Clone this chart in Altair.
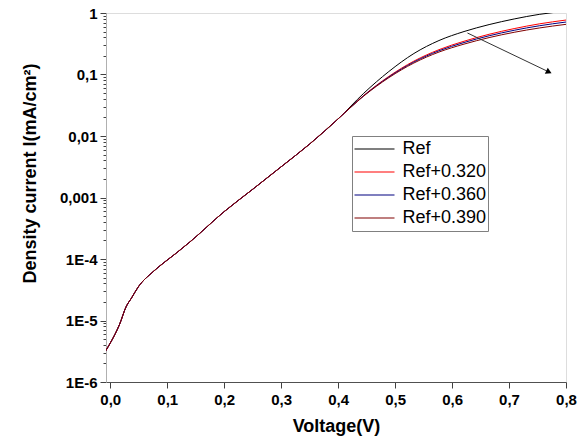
import math
import altair as alt
import pandas as pd

# ---------------- data ----------------
voltage = [-0.008, 0.0, 0.008, 0.016, 0.028, 0.037, 0.049, 0.075, 0.096, 0.116,
           0.14, 0.2, 0.25, 0.3, 0.35, 0.4,
           0.445, 0.489, 0.533, 0.577, 0.621, 0.665, 0.709, 0.753, 0.8]
# common part of all curves (V <= 0.4)
shared_low = [3.2e-6, 4.3e-6, 5.9e-6, 8.5e-6, 1.69e-5, 2.3e-5, 3.5e-5, 6.2e-5, 9.0e-5, 1.25e-4,
              1.9e-4, 5.9e-4, 1.36e-3, 3.16e-3, 7.4e-3, 1.9e-2]
ref_high = [0.0496, 0.1118, 0.2194, 0.3567, 0.4995, 0.648, 0.80, 0.95, 1.07]
r320_high = [0.0457, 0.0932, 0.1651, 0.2533, 0.3476, 0.4508, 0.5577, 0.6652, 0.7682]
r360_high = [0.0452, 0.0911, 0.1596, 0.2431, 0.3311, 0.4262, 0.5234, 0.6196, 0.7128]
r390_high = [0.0447, 0.0887, 0.1537, 0.2316, 0.3119, 0.3984, 0.4857, 0.5706, 0.6540]

series_names = ["Ref", "Ref+0.320", "Ref+0.360", "Ref+0.390"]
series_colors = ["#000000", "#ff0000", "#000080", "#800000"]
series_high = [ref_high, r320_high, r360_high, r390_high]

y_major_values = [1, 0.1, 0.01, 0.001, 1e-4, 1e-5, 1e-6]
y_major_labels = ["1", "0,1", "0,01", "0,001", "1E-4", "1E-5", "1E-6"]
x_tick_values = [round(i * 0.05, 2) for i in range(17)]

arrow_v = [0.627, 0.770]
arrow_i = [0.473, 0.110]

# ---------------- tables ----------------
rows = []
for name, high in zip(series_names, series_high):
    for v, i in zip(voltage, shared_low + high):
        rows.append({"V": v, "I": i, "series": name})
df = pd.DataFrame(rows)

arrow_df = pd.DataFrame({"V": arrow_v, "I": arrow_i})
head_df = arrow_df.tail(1)

y_all_values = [m * 10.0 ** e for e in range(-6, 0) for m in range(1, 10)] + [1.0]

# label expression for y built from the label lists
y_expr = "''"
for val, lab in zip(reversed(y_major_values), reversed(y_major_labels)):
    y_expr = f"abs(log(datum.value)/LN10 - ({math.log10(val):.0f})) < 0.001 ? '{lab}' : " + y_expr
x_expr = ("abs(datum.value*10 - round(datum.value*10)) < 0.000001 ? "
          "replace(format(datum.value, '.1f'), '.', ',') : ''")
y_major_test = "abs(log(datum.value)/LN10 - round(log(datum.value)/LN10)) < 0.001"
x_major_test = "abs(datum.value*10 - round(datum.value*10)) < 0.000001"

FONT = "Liberation Sans"

x_scale = alt.Scale(domain=[-0.0075, 0.8], nice=False, zero=False)
y_scale = alt.Scale(type="log", domain=[1e-6, 1], nice=False)

x_axis = alt.Axis(
    values=x_tick_values, labelExpr=x_expr, grid=False,
    tickSize=6, tickColor="#404040", domainColor="#505050",
    tickDash={"condition": {"test": x_major_test, "value": [8, 0]}, "value": [3, 20]},
    labelFont=FONT, labelFontSize=15, labelFontWeight="bold", labelColor="#000000",
    labelPadding=4, labelFlush=False, labelOverlap=False,
    title="Voltage(V)", titleFont=FONT, titleFontSize=18, titleFontWeight="bold",
    titleColor="#000000", titlePadding=10,
)
y_axis = alt.Axis(
    values=y_all_values, labelExpr=y_expr, grid=False,
    tickSize=6, tickColor="#404040", domainColor="#b0b0b0",
    tickDash={"condition": {"test": y_major_test, "value": [8, 0]}, "value": [3, 20]},
    labelFont=FONT, labelFontSize=15, labelFontWeight="bold", labelColor="#000000",
    labelPadding=3, labelFlush=False, labelOverlap=False,
    title="Density current I(mA/cm²)", titleFont=FONT, titleFontSize=18,
    titleFontWeight="bold", titleColor="#000000", titleX=-67, titleY=160,
)

legend = alt.Legend(
    title=None, orient="none", legendX=246, legendY=123,
    symbolType="stroke", symbolSize=1600, symbolStrokeWidth=1.2,
    clipHeight=23, rowPadding=0, padding=1.5,
    labelFont=FONT, labelFontSize=18, labelColor="#000000", labelOffset=7,
    strokeColor="#808080", fillColor="#ffffff",
)

lines = alt.Chart(df).mark_line(strokeWidth=1, clip=True, interpolate="monotone").encode(
    x=alt.X("V:Q", scale=x_scale, axis=x_axis),
    y=alt.Y("I:Q", scale=y_scale, axis=y_axis),
    color=alt.Color("series:N", scale=alt.Scale(domain=series_names, range=series_colors),
                    sort=series_names, legend=legend),
)

arrow_line = alt.Chart(arrow_df).mark_line(color="#333333", strokeWidth=1, clip=True).encode(
    x=alt.X("V:Q", scale=x_scale), y=alt.Y("I:Q", scale=y_scale)
)
arrow_head = alt.Chart(head_df).mark_point(
    shape="triangle-right", filled=True, size=45, angle=26, color="#000000", opacity=1
).encode(x=alt.X("V:Q", scale=x_scale), y=alt.Y("I:Q", scale=y_scale))

chart = alt.layer(lines, arrow_line, arrow_head).properties(
    width=460, height=369,
    padding={"left": 106, "top": 13, "right": 18, "bottom": 60},
    autosize="none",
).configure_view(stroke="#909090", strokeWidth=1).configure(background="#ffffff")

chart.save("out.html", embed_options={"renderer": "svg", "actions": False})
